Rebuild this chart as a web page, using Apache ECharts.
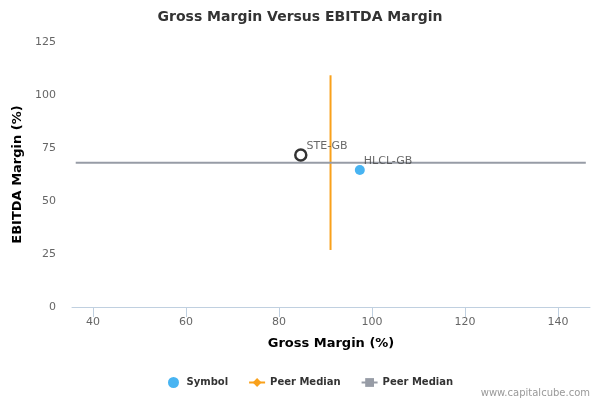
<!DOCTYPE html>
<html lang="en">
  <head>
    <meta charset="UTF-8" />
    <title>Gross Margin Versus EBITDA Margin</title>
    <script src="https://cdn.jsdelivr.net/npm/echarts@6.0.0/dist/echarts.min.js"></script>
    <style>
      html, body { margin: 0; padding: 0; background: #fff; }
      #box { width: 600px; height: 400px; }
    </style>
  </head>
  <body>
    <div id="box"></div>
    <script>
      // data
      var companies = ["STE-GB", "HLCL-GB"];
      var grossMargin = [84.7, 97.4];
      var ebitdaMargin = [71.7, 64.6];
      // peer medians: vertical one on gross margin, horizontal one on EBITDA margin
      var peerGross = 91.1;
      var peerGrossSpan = [26.9, 109.3];
      var peerEbitda = 68.1;
      var peerEbitdaSpan = [36.3, 146.0];
      var xTicks = [40, 60, 80, 100, 120, 140];
      var xRange = [35.5, 146.9];
      var yRange = [0, 125];

      var font = "DejaVu Sans";
      var labelStyle = {
        show: true,
        position: "right",
        offset: [-6, -9],
        color: "#444",
        fontSize: 11,
        fontFamily: font,
        formatter: function (p) { return p.data.name; },
      };

      var myChart = echarts.init(document.getElementById("box"));
      var option = {
        animation: false,
        title: {
          text: "Gross Margin Versus EBITDA Margin",
          left: "center",
          top: 5,
          textStyle: { fontFamily: font, fontSize: 14, fontWeight: "bold", color: "#333" },
        },
        grid: { left: 72, right: 10, top: 42, bottom: 93 },
        legend: {
          bottom: 7,
          left: 163,
          itemWidth: 16,
          itemHeight: 11,
          itemGap: 20,
          data: ["Symbol", "Peer Median", "Peer Median "],
          textStyle: { fontFamily: font, fontSize: 10, fontWeight: "bold", color: "#333" },
        },
        graphic: [
          {
            type: "text",
            right: 10,
            bottom: 2,
            style: { text: "www.capitalcube.com", fill: "#999", font: "10px DejaVu Sans" },
          },
        ],
        xAxis: {
          type: "value",
          min: xRange[0],
          max: xRange[1],
          name: "Gross Margin (%)",
          nameLocation: "middle",
          nameGap: 30,
          nameTextStyle: { fontFamily: font, fontSize: 13, fontWeight: "bold", color: "#000" },
          axisLine: { show: true, onZero: false, lineStyle: { color: "#c0d0e0", width: 1 } },
          axisTick: { show: true, length: 10, customValues: xTicks, lineStyle: { color: "#c0d0e0" } },
          axisLabel: { customValues: xTicks, margin: 10, fontFamily: font, fontSize: 11, color: "#666" },
          splitLine: { show: false },
        },
        yAxis: {
          type: "value",
          min: yRange[0],
          max: yRange[1],
          interval: 25,
          name: "EBITDA Margin (%)",
          nameLocation: "middle",
          nameGap: 35,
          nameTextStyle: { fontFamily: font, fontSize: 13, fontWeight: "bold", color: "#000" },
          axisLine: { show: false },
          axisTick: { show: false },
          axisLabel: { margin: 16, fontFamily: font, fontSize: 11, color: "#666" },
          splitLine: { show: false },
        },
        series: [
          {
            name: "Peer Median",
            type: "line",
            symbol: "diamond",
            symbolSize: 8,
            showSymbol: false,
            color: "#f9a11b",
            lineStyle: { color: "#f9a11b", width: 2 },
            data: [[peerGross, peerGrossSpan[0]], [peerGross, peerGrossSpan[1]]],
            z: 2,
          },
          {
            name: "Peer Median ",
            type: "line",
            symbol: "rect",
            symbolSize: 8,
            showSymbol: false,
            color: "#979ca6",
            lineStyle: { color: "#979ca6", width: 2 },
            data: [[peerEbitdaSpan[0], peerEbitda], [peerEbitdaSpan[1], peerEbitda]],
            z: 2,
          },
          {
            name: "Symbol",
            type: "scatter",
            symbol: "circle",
            symbolSize: 10,
            color: "#1aa1ef",
            label: labelStyle,
            data: [{ name: companies[1], value: [grossMargin[1], ebitdaMargin[1]] }],
            z: 3,
          },
          {
            name: companies[0],
            type: "scatter",
            symbol: "circle",
            symbolSize: 11,
            itemStyle: { color: "#fff", borderColor: "#000", borderWidth: 2.5 },
            label: labelStyle,
            data: [{ name: companies[0], value: [grossMargin[0], ebitdaMargin[0]] }],
            z: 4,
          },
        ],
      };
      myChart.setOption(option);
    </script>
  </body>
</html>
